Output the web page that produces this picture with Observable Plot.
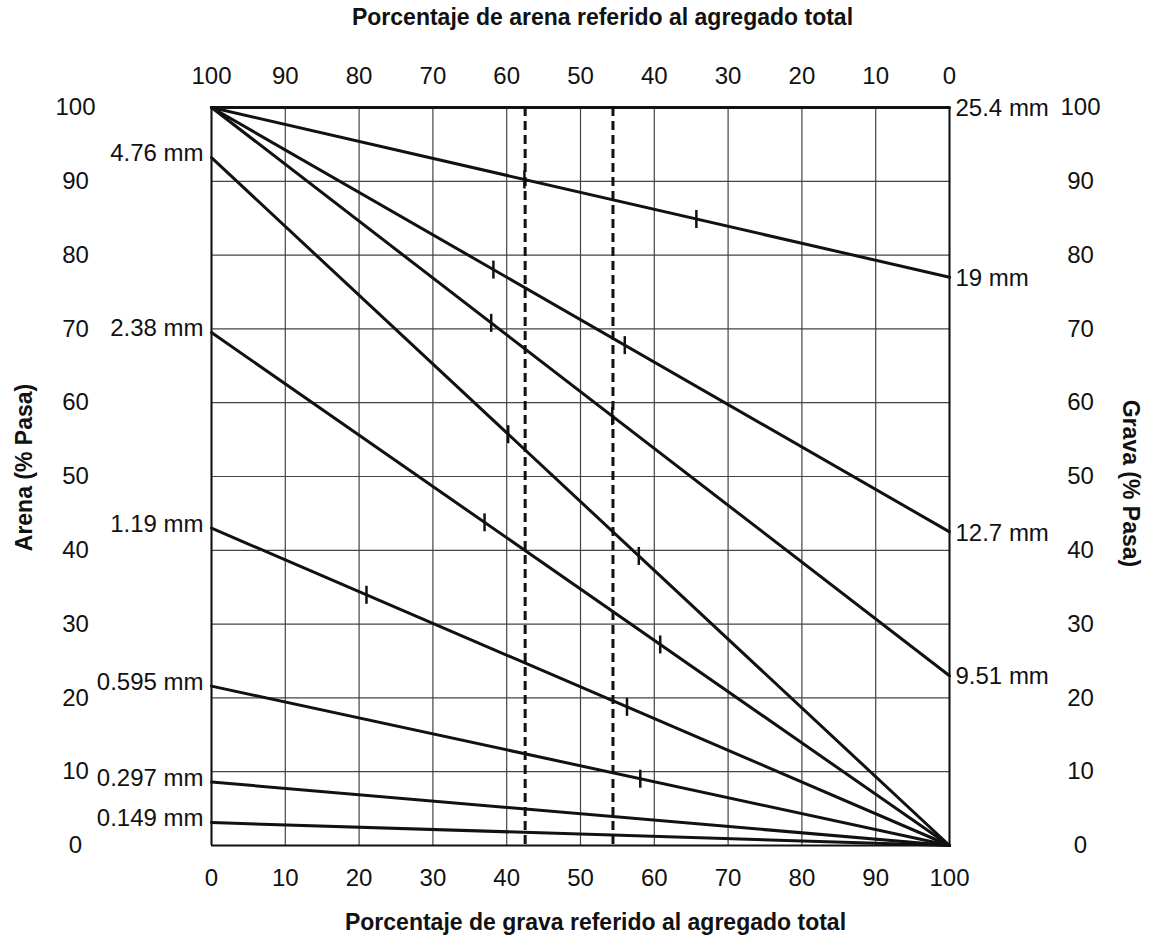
<!DOCTYPE html>
<html>
<head>
<meta charset="utf-8">
<script src="https://cdn.jsdelivr.net/npm/d3@7"></script>
<script src="https://cdn.jsdelivr.net/npm/@observablehq/plot@0.6"></script>
<style>
  html, body { margin: 0; padding: 0; background: #fff; }
</style>
</head>
<body>
<div id="chart"></div>
<script>
// ---- data ----
const topTitle = "Porcentaje de arena referido al agregado total";
const bottomTitle = "Porcentaje de grava referido al agregado total";
const leftTitle = "Arena (% Pasa)";
const rightTitle = "Grava (% Pasa)";

const gravelTicks = [0, 10, 20, 30, 40, 50, 60, 70, 80, 90, 100];
const sandTickLabels = [100, 90, 80, 70, 60, 50, 40, 30, 20, 10, 0];
const passTicks = [0, 10, 20, 30, 40, 50, 60, 70, 80, 90, 100];

// coarse sieves: 100% passing at 0% gravel, value at 100% gravel
const coarseSizes = ["25.4 mm", "19 mm", "12.7 mm", "9.51 mm"];
const coarsePass = [100, 77, 42.5, 23];

// fine sieves: value at 0% gravel, 0 at 100% gravel
const fineSizes = ["4.76 mm", "2.38 mm", "1.19 mm", "0.595 mm", "0.297 mm", "0.149 mm"];
const finePass = [93.2, 69.5, 43, 21.6, 8.6, 3.1];

// small tick marks on lines (sieve, % gravel)
const markSizes = ["19 mm", "19 mm", "12.7 mm", "12.7 mm", "9.51 mm", "9.51 mm",
                   "4.76 mm", "4.76 mm", "2.38 mm", "2.38 mm", "1.19 mm", "1.19 mm", "0.595 mm"];
const markGravel = [42.4, 65.7, 38.2, 56.0, 37.9, 54.3, 40.2, 57.9, 37.0, 60.8, 21.0, 56.3, 58.1];

// dashed limits (% gravel)
const dashedGravel = [42.5, 54.4];

// ---- build tables ----
const lines = [
  ...coarseSizes.map((s, i) => ({size: s, x1: 0, y1: 100, x2: 100, y2: coarsePass[i]})),
  ...fineSizes.map((s, i) => ({size: s, x1: 0, y1: finePass[i], x2: 100, y2: 0}))
];
const lineBy = new Map(lines.map(d => [d.size, d]));
const marksData = markSizes.map((s, i) => {
  const l = lineBy.get(s);
  const x = markGravel[i];
  return {x, y: l.y1 + (l.y2 - l.y1) * (x - l.x1) / (l.x2 - l.x1)};
});
const coarseLabels = coarseSizes.map((s, i) => ({size: s, x: 100, y: coarsePass[i]}));
const fineLabels = fineSizes.map((s, i) => ({size: s, x: 0, y: finePass[i]}));

const vbar = {
  draw(context, size) {
    const r = Math.sqrt(size / Math.PI);
    context.moveTo(0, -r);
    context.lineTo(0, r);
  }
};

const ink = "#111";
const chart = Plot.plot({
  width: 1152,
  height: 947,
  marginLeft: 211,
  marginRight: 203,
  marginTop: 107,
  marginBottom: 102,
  x: {domain: [0, 100]},
  y: {domain: [0, 100]},
  style: {
    fontFamily: "'Liberation Sans Narrow', 'Arial Narrow', 'Liberation Sans', Arial, sans-serif",
    fontSize: "24px",
    background: "#fff",
    color: ink
  },
  marks: [
    Plot.gridX(gravelTicks, {stroke: "#444", strokeOpacity: 1, strokeWidth: 1.2}),
    Plot.gridY(passTicks, {stroke: "#444", strokeOpacity: 1, strokeWidth: 1.2}),
    Plot.ruleX([0, 100], {stroke: ink, strokeWidth: 2}),
    Plot.ruleY([0], {stroke: ink, strokeWidth: 2}),
    Plot.axisX(gravelTicks, {anchor: "bottom", tickSize: 0, tickPadding: 23, label: null, fill: ink}),
    Plot.axisX(gravelTicks, {anchor: "top", tickSize: 0, tickPadding: 24, label: null, fill: ink,
      tickFormat: (d, i) => sandTickLabels[gravelTicks.indexOf(d)]}),
    Plot.axisY(passTicks, {anchor: "left", tickSize: 0, tickPadding: 136, textAnchor: "middle", label: null, fill: ink}),
    Plot.axisY(passTicks, {anchor: "right", tickSize: 0, tickPadding: 131, textAnchor: "middle", label: null, fill: ink}),
    Plot.ruleX(dashedGravel, {stroke: ink, strokeWidth: 3, strokeDasharray: "9,5"}),
    Plot.link(lines, {x1: "x1", y1: "y1", x2: "x2", y2: "y2", stroke: ink, strokeWidth: 3, strokeLinecap: "round"}),
    Plot.dot(marksData, {x: "x", y: "y", symbol: vbar, r: 9, fill: "none", stroke: ink, strokeWidth: 2.5}),
    Plot.text(fineLabels, {x: "x", y: "y", text: "size", textAnchor: "end", dx: -8, dy: -4, fill: ink}),
    Plot.text(coarseLabels, {x: "x", y: "y", text: "size", textAnchor: "start", dx: 6, dy: 1, fill: ink}),
    Plot.text([topTitle], {text: d => d, frameAnchor: "top", lineAnchor: "middle", textAnchor: "middle", dy: -90, dx: 22, fontWeight: "bold", fontSize: 23, fill: ink}),
    Plot.text([bottomTitle], {text: d => d, frameAnchor: "bottom", lineAnchor: "middle", textAnchor: "middle", dy: 77, dx: 15, fontWeight: "bold", fontSize: 23, fill: ink}),
    Plot.text([leftTitle], {text: d => d, frameAnchor: "left", lineAnchor: "middle", textAnchor: "middle", dx: -187, dy: -9, rotate: -90, fontWeight: "bold", fontSize: 23, fill: ink}),
    Plot.text([rightTitle], {text: d => d, frameAnchor: "right", lineAnchor: "middle", textAnchor: "middle", dx: 181, dy: 7, rotate: 90, fontWeight: "bold", fontSize: 23, fill: ink})
  ]
});
document.getElementById("chart").appendChild(chart);
</script>
</body>
</html>
